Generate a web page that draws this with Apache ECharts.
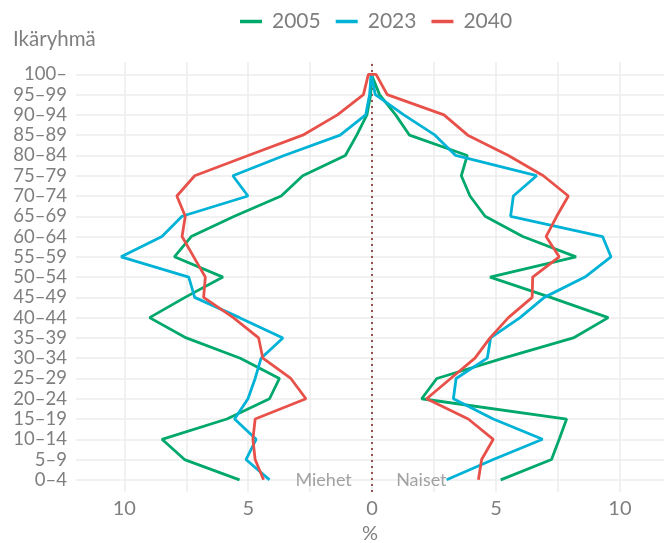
<!DOCTYPE html>
<html>
<head>
<meta charset="utf-8">
<script src="https://cdn.jsdelivr.net/npm/echarts@6/dist/echarts.min.js"></script>
<style>
html,body{margin:0;padding:0;background:#fff;}
#chart{width:664px;height:543px;}
</style>
</head>
<body>
<div id="chart"></div>
<script>
// Age groups (bottom to top)
const ages = ['0–4','5–9','10–14','15–19','20–24','25–29','30–34','35–39','40–44','45–49','50–54','55–59','60–64','65–69','70–74','75–79','80–84','85–89','90–94','95–99','100–'];
const years = ['2005','2023','2040'];

// Men (%, shown on the left as negative), index = age group
const men2005 = [-5.35,-7.57,-8.48,-5.86,-4.14,-3.74,-5.32,-7.50,-8.98,-7.55,-6.02,-7.98,-7.30,-5.56,-3.67,-2.80,-1.08,-0.62,-0.21,-0.06,-0.03];
const men2023 = [-4.14,-5.09,-4.68,-5.55,-5.01,-4.72,-4.48,-3.60,-5.35,-7.16,-7.40,-10.13,-8.48,-7.67,-5.01,-5.62,-3.55,-1.29,-0.26,-0.10,-0.04];
const men2040 = [-4.38,-4.72,-4.81,-4.72,-2.67,-3.28,-4.41,-4.58,-5.60,-6.80,-6.73,-7.20,-7.67,-7.54,-7.88,-7.16,-5.00,-2.80,-1.40,-0.35,-0.15];

// Women (%), index = age group
const women2005 = [5.19,7.24,7.55,7.85,2.00,2.61,5.30,8.12,9.53,7.20,4.76,8.23,6.08,4.56,3.95,3.60,3.84,1.51,0.95,0.30,0.03];
const women2023 = [3.01,4.89,6.88,4.89,3.28,3.39,4.65,4.78,5.97,6.95,8.59,9.64,9.30,5.59,5.70,6.64,3.37,2.54,1.28,0.13,0.03];
const women2040 = [4.29,4.42,4.89,3.88,2.20,3.17,4.15,4.76,5.50,6.46,6.48,7.55,7.02,7.45,7.92,6.91,5.50,3.86,2.90,0.61,0.16];

const xLabelTicks = [-10,-5,0,5,10];
const xGridTicks = [-10,-7.5,-5,-2.5,0,2.5,5,7.5,10];

const colors = ['#00a86b','#00b2d6','#e8514a'];
const menAll = [men2005, men2023, men2040];
const womenAll = [women2005, women2023, women2040];

function pyramidPath(men, women) {
  const pts = [];
  for (let i = 0; i < ages.length; i++) pts.push([men[i], i]);
  for (let i = ages.length - 1; i >= 0; i--) pts.push([women[i], i]);
  return pts;
}

const FONT = 'Lato';
const GRAY = '#7f7f7f';
const chart = echarts.init(document.getElementById('chart'), null, {renderer:'canvas'});

const series = years.map((y, k) => ({
  name: y,
  type: 'line',
  data: pyramidPath(menAll[k], womenAll[k]),
  showSymbol: false,
  symbol: 'none',
  lineStyle: {width: 2.8, color: colors[k]},
  itemStyle: {color: colors[k]},
  z: 5 + k,
  animation: false
}));

// centre dotted line + annotations
series.push({
  name: 'annot',
  type: 'scatter',
  data: [
    {value: [-0.8, 0], label: {show: true, position: 'left', distance: 0, formatter: 'Miehet'}},
    {value: [0.95, 0], label: {show: true, position: 'right', distance: 0, formatter: 'Naiset'}}
  ],
  symbolSize: 1,
  itemStyle: {color: 'rgba(0,0,0,0)'},
  label: {color: '#8c8c8c', fontSize: 18, fontFamily: FONT},
  silent: true,
  z: 3,
  markLine: {
    silent: true,
    symbol: 'none',
    label: {show: false},
    lineStyle: {type: [2, 4], color: '#7d2b2b', width: 1.6},
    data: [{xAxis: 0}],
    animation: false
  },
  animation: false
});

chart.setOption({
  animation: false,
  backgroundColor: '#ffffff',
  title: {
    text: 'Ikäryhmä',
    left: 8,
    top: 24,
    textStyle: {fontFamily: FONT, fontSize: 20.5, fontWeight: 'normal', color: GRAY}
  },
  legend: {
    data: years,
    left: 235,
    top: 6,
    itemWidth: 22,
    itemHeight: 3.5,
    itemGap: 15,
    icon: 'rect',
    textStyle: {fontFamily: FONT, fontSize: 21, color: GRAY, padding: [0,0,0,5], lineHeight: 21}
  },
  grid: {left: 76, right: 0, top: 62.2, bottom: 51, containLabel: false, outerBoundsMode: 'none'},
  xAxis: {
    type: 'value',
    min: -11.95,
    max: 11.78,
    name: '%',
    nameLocation: 'middle',
    nameGap: 32,
    nameTextStyle: {fontFamily: FONT, fontSize: 20, color: GRAY},
    axisLine: {show: false},
    axisTick: {show: false, customValues: xGridTicks},
    axisLabel: {
      customValues: xLabelTicks,
      formatter: v => String(Math.abs(v)),
      fontFamily: FONT, fontSize: 20, color: GRAY, margin: 7
    },
    splitLine: {show: true, lineStyle: {color: '#ececec', width: 1.5}}
  },
  yAxis: {
    type: 'value',
    min: -0.6,
    max: 20.6,
    axisLine: {show: false},
    axisTick: {show: false, customValues: ages.map((a, i) => i)},
    axisLabel: {
      customValues: ages.map((a, i) => i),
      formatter: v => ages[Math.round(v)],
      fontFamily: FONT, fontSize: 18.5, color: GRAY, margin: 9
    },
    splitLine: {show: true, lineStyle: {color: '#ececec', width: 1.5}}
  },
  series: series
});
</script>
</body>
</html>
